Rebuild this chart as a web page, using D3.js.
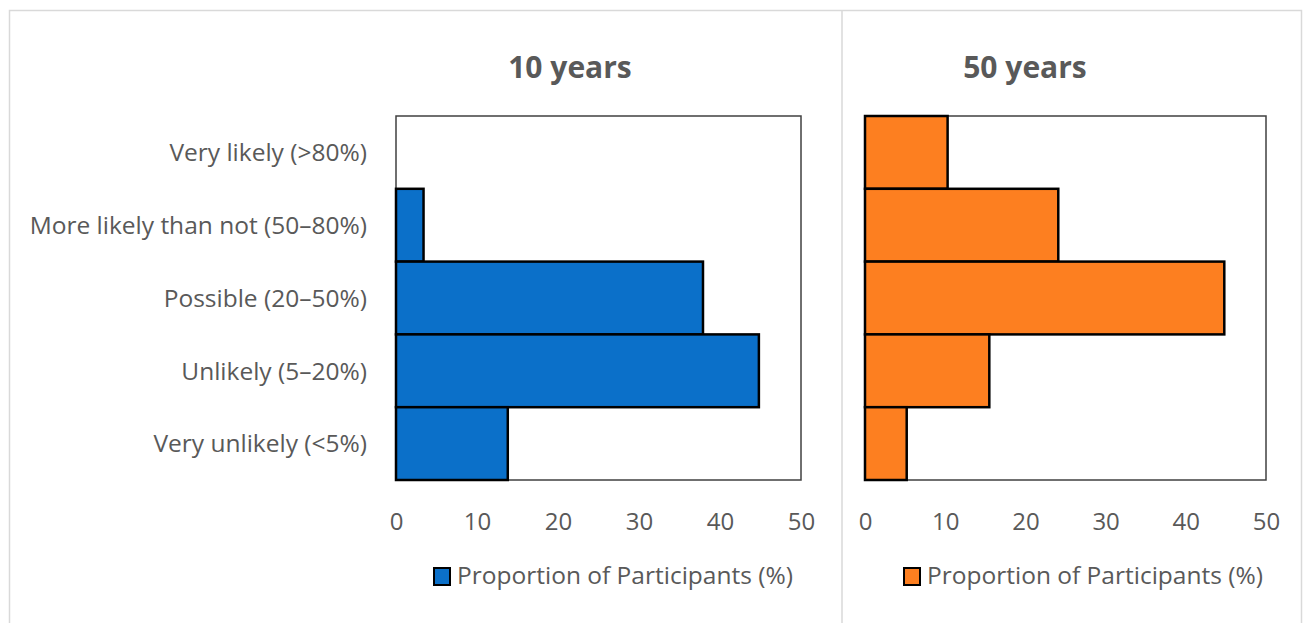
<!DOCTYPE html>
<html>
<head>
<meta charset="utf-8">
<script src="https://cdn.jsdelivr.net/npm/d3@7"></script>
<style>
  body { margin: 0; background: #fff; }
  text { font-family: "Open Sans", "Noto Sans", sans-serif; fill: #595959; }
</style>
</head>
<body>
<div id="chart"></div>
<script>
const width = 1306
const height = 623

// data (percent of participants, n = 58)
const categories = ['Very likely (>80%)', 'More likely than not (50–80%)', 'Possible (20–50%)', 'Unlikely (5–20%)', 'Very unlikely (<5%)']
const values10 = [0, 3.4, 37.9, 44.8, 13.8]
const values50 = [10.3, 24.1, 44.8, 15.5, 5.2]
const xTicks = [0, 10, 20, 30, 40, 50]
const legendLabel = 'Proportion of Participants (%)'

const svg = d3.select('#chart')
  .append('svg')
  .attr('width', width)
  .attr('height', height)

// outer frame + divider
svg.append('rect')
  .attr('x', 9.5).attr('y', 10.5)
  .attr('width', 1292).attr('height', 640)
  .attr('fill', 'none').attr('stroke', '#d9d9d9').attr('stroke-width', 1.5)
svg.append('line')
  .attr('x1', 842).attr('x2', 842).attr('y1', 10).attr('y2', height)
  .attr('stroke', '#d9d9d9').attr('stroke-width', 1.5)

const y = d3.scaleBand()
  .domain(categories)
  .range([116, 480])
  .padding(0)

const drawPanel = (values, title, color, x0, x1, titleX, legendX, showLabels) => {
  const x = d3.scaleLinear().domain([0, 50]).range([x0, x1])
  const g = svg.append('g')

  // title
  g.append('text')
    .attr('x', titleX)
    .attr('y', 78)
    .attr('text-anchor', 'middle')
    .style('font-size', '30px')
    .style('font-weight', 'bold')
    .text(title)

  // plot area
  g.append('rect')
    .attr('x', x0).attr('y', y.range()[0])
    .attr('width', x1 - x0).attr('height', y.range()[1] - y.range()[0])
    .attr('fill', '#fff').attr('stroke', '#404040').attr('stroke-width', 1.5)

  // bars
  g.selectAll('.bar')
    .data(values.map((v, i) => ({ cat: categories[i], v })))
    .enter()
      .append('rect')
      .attr('class', 'bar')
      .attr('x', x(0))
      .attr('y', d => y(d.cat))
      .attr('width', d => x(d.v) - x(0))
      .attr('height', y.bandwidth())
      .attr('fill', color)
      .attr('stroke', d => d.v > 0 ? '#000' : 'none')
      .attr('stroke-width', 2.5)

  // x axis
  const axis = d3.axisBottom(x).tickValues(xTicks).tickSize(0).tickPadding(0)
  const ax = g.append('g')
    .attr('transform', 'translate(0,' + 530 + ')')
    .call(axis)
  ax.select('.domain').remove()
  ax.selectAll('text')
    .attr('dy', 0)
    .attr('fill', '#595959')
    .style('font-size', '24px')
    .style('font-family', '"Open Sans", sans-serif')

  // y labels
  if (showLabels) {
    const ay = g.append('g')
      .attr('transform', 'translate(367,0)')
      .call(d3.axisLeft(y).tickSize(0).tickPadding(0))
    ay.select('.domain').remove()
    ay.selectAll('text')
      .attr('fill', '#595959')
      .attr('dy', '0.36em')
      .style('font-size', '24.5px')
      .style('font-family', '"Open Sans", sans-serif')
  }

  // legend
  const lg = g.append('g').attr('transform', 'translate(' + legendX + ',584)')
  lg.append('rect')
    .attr('x', 1).attr('y', -16)
    .attr('width', 16).attr('height', 17)
    .attr('fill', color).attr('stroke', '#000').attr('stroke-width', 2)
  lg.append('text')
    .attr('x', 24).attr('y', 0)
    .style('font-size', '24.5px')
    .text(legendLabel)
}

drawPanel(values10, '10 years', '#0b70c9', 396, 801, 570, 433, true)
drawPanel(values50, '50 years', '#fd7f20', 865, 1266, 1025, 903, false)
</script>
</body>
</html>
